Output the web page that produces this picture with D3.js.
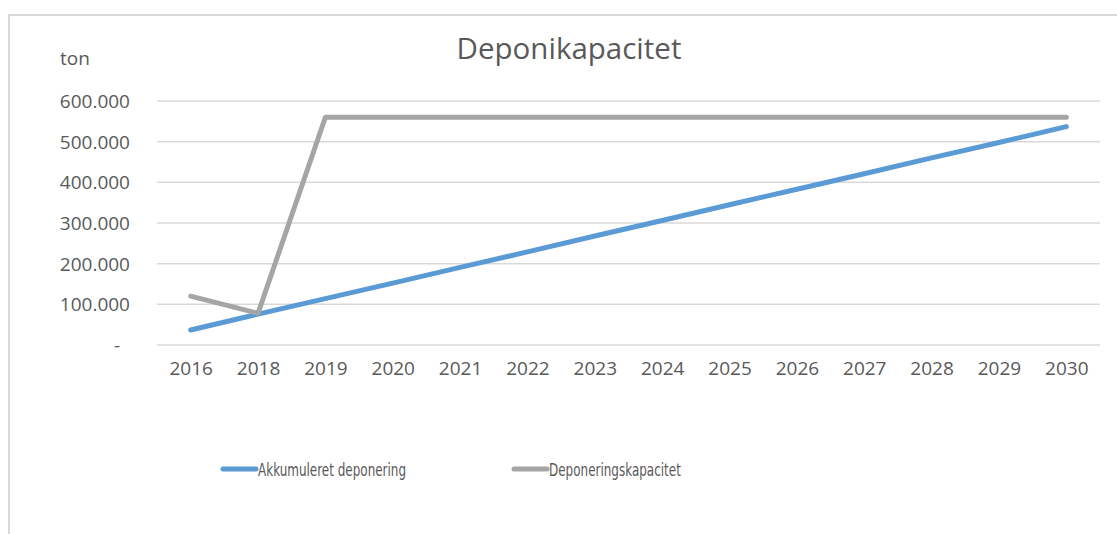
<!DOCTYPE html>
<html><head><meta charset="utf-8">
<script src="https://cdn.jsdelivr.net/npm/d3@7"></script>
<style>body{margin:0;background:#fff}svg{display:block}</style>
</head><body><svg id="c" width="1117" height="534"></svg>
<script>
const years = ["2016","2018","2019","2020","2021","2022","2023","2024","2025","2026","2027","2028","2029","2030"];
const akkumuleret = [37000,76000,114000,152000,191000,229000,268000,306000,345000,383000,421000,460000,498000,537000];
const kapacitet = [120000,78000,560000,560000,560000,560000,560000,560000,560000,560000,560000,560000,560000,560000];
const yTicks = [0,100000,200000,300000,400000,500000,600000];
const seriesNames = ["Akkumuleret deponering","Deponeringskapacitet"];
const colors = ["#5B9BD5","#A5A5A5"];

const svg = d3.select("#c");
const txt = "#595959";
// frame
svg.append("path").attr("d","M9,534 V15 H1117").attr("fill","none").attr("stroke","#D9D9D9").attr("stroke-width",2);

const x = d3.scalePoint().domain(years).range([157,1100]).padding(0.5);
const y = d3.scaleLinear().domain([0,600000]).range([345,101]);

// gridlines
svg.append("g").selectAll("line").data(yTicks).join("line")
  .attr("x1",157).attr("x2",1100).attr("y1",d=>y(d)).attr("y2",d=>y(d))
  .attr("stroke","#D9D9D9").attr("stroke-width",1.5);

const fmt = d => d===0 ? "-" : d3.format(",")(d).replace(/,/g,".");
const yAxis = d3.axisLeft(y).tickValues(yTicks).tickFormat(fmt).tickSize(0).tickPadding(0);
const ya = svg.append("g").attr("transform","translate(130,0)").call(yAxis);
ya.select(".domain").remove();
ya.selectAll("text").attr("font-family","'Open Sans',sans-serif").attr("font-size",19).attr("fill",txt)
  .attr("dy","0.35em").attr("x",d=>d===0?-10:0);

const xAxis = d3.axisBottom(x).tickSize(0).tickPadding(0);
const xa = svg.append("g").attr("transform","translate(0,361)").call(xAxis);
xa.select(".domain").remove();
xa.selectAll("text").attr("font-family","'Open Sans',sans-serif").attr("font-size",19).attr("fill",txt).attr("dy","0.71em");

const line = d3.line().x((d,i)=>x(years[i])).y(d=>y(d));
[akkumuleret,kapacitet].forEach((s,i)=>{
  svg.append("path").datum(s).attr("d",line).attr("fill","none")
    .attr("stroke",colors[i]).attr("stroke-width",5).attr("stroke-linecap","round").attr("stroke-linejoin","round");
});

svg.append("text").attr("x",569).attr("y",59).attr("text-anchor","middle")
  .attr("font-family","'Open Sans',sans-serif").attr("font-size",29.5).attr("fill",txt).text("Deponikapacitet");
svg.append("text").attr("x",60).attr("y",65)
  .attr("font-family","'Open Sans',sans-serif").attr("font-size",19).attr("fill",txt).text("ton");

// legend
const lg = [{x:223},{x:514}];
seriesNames.forEach((n,i)=>{
  const g = svg.append("g").attr("transform",`translate(${lg[i].x},469)`);
  g.append("line").attr("x1",0).attr("x2",33).attr("stroke",colors[i]).attr("stroke-width",5).attr("stroke-linecap","round");
  g.append("text").attr("transform","translate(35,6.5) scale(0.74,1)")
    .attr("font-family","'Liberation Sans Narrow','DejaVu Sans Condensed',sans-serif")
    .attr("font-size",18).attr("fill",txt).text(n);
});
</script></body></html>
